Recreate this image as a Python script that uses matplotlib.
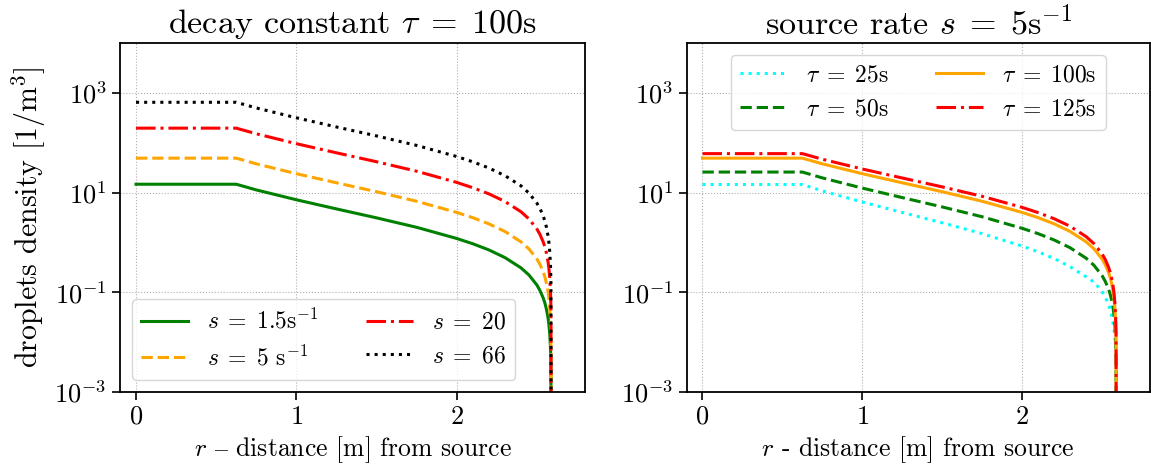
import matplotlib
matplotlib.use("Agg")
import matplotlib.pyplot as plt

plt.rcParams['font.family'] = ['cmr10', 'DejaVu Serif']
plt.rcParams['mathtext.fontset'] = 'cm'
plt.rcParams['axes.formatter.use_mathtext'] = True
plt.rcParams['axes.unicode_minus'] = True

# distance grid [m]
r = [0.0, 0.625, 0.75, 1.0, 1.25, 1.5, 1.75, 2.0, 2.1, 2.2, 2.3, 2.4, 2.45, 2.5,
     2.52, 2.54, 2.55, 2.56, 2.57, 2.575, 2.58, 2.585, 2.5875, 2.59]

# left panel: tau = 100 s, varying source rate s
left_s15 = [14.7, 14.7, 11.3, 7.17, 4.70, 3.11, 2.01, 1.20, 0.941, 0.709, 0.498, 0.310,
            0.223, 0.140, 0.107, 0.076, 0.0606, 0.045, 0.030, 0.0223, 0.0148, 0.0075,
            0.0037, 1e-7]
left_s5 = [49, 49, 37.7, 23.9, 15.7, 10.4, 6.69, 4.00, 3.14, 2.36, 1.66, 1.03,
           0.742, 0.465, 0.358, 0.253, 0.202, 0.150, 0.100, 0.0745, 0.0495, 0.025,
           0.0124, 1e-7]
left_s20 = [196, 196, 151, 95.6, 62.7, 41.5, 26.8, 16.0, 12.5, 9.45, 6.64, 4.14,
            2.97, 1.86, 1.43, 1.01, 0.808, 0.602, 0.400, 0.298, 0.198, 0.100,
            0.0496, 1e-7]
left_s66 = [647, 647, 498, 316, 207, 137, 88.3, 52.9, 41.4, 31.2, 21.9, 13.7,
            9.80, 6.14, 4.73, 3.35, 2.67, 1.99, 1.32, 0.983, 0.653, 0.330,
            0.164, 1e-7]

# right panel: s = 5 /s, varying decay constant tau
right_t25 = [14.5, 14.5, 10.8, 6.47, 3.99, 2.48, 1.50, 0.845, 0.647, 0.476, 0.326, 0.205,
             0.16, 0.105, 0.08, 0.058, 0.046, 0.034, 0.023, 0.018, 0.0125, 0.007,
             0.0035, 1e-7]
right_t50 = [25.8, 25.8, 19.7, 12.3, 7.93, 5.15, 3.27, 1.92, 1.50, 1.12, 0.783, 0.483,
             0.346, 0.216, 0.166, 0.117, 0.0934, 0.0697, 0.0462, 0.0345, 0.0230, 0.0114,
             0.0057, 1e-7]
right_t100 = [49, 49, 37.7, 23.9, 15.7, 10.4, 6.69, 4.00, 3.14, 2.36, 1.66, 1.03,
              0.742, 0.465, 0.358, 0.253, 0.202, 0.150, 0.100, 0.0745, 0.0495, 0.025,
              0.0124, 1e-7]
right_t125 = [60.4, 60.4, 46.6, 29.7, 19.6, 13.0, 8.40, 5.05, 3.96, 2.99, 2.11, 1.31,
              0.943, 0.591, 0.456, 0.322, 0.257, 0.192, 0.127, 0.0952, 0.0633, 0.0315,
              0.0158, 1e-7]

left_labels = [r"$s\;=\;1.5$s$^{-1}$", r"$s\;=\;5$ s$^{-1}$", r"$s\;=\;20$", r"$s\;=\;66$"]
right_labels = [r"$\tau\;=\;25$s", r"$\tau\;=\;50$s", r"$\tau\;=\;100$s", r"$\tau\;=\;125$s"]
yticks = [1e-3, 1e-1, 1e1, 1e3]
xticks = [0, 1, 2]

W, H = 1151, 472
fig = plt.figure(figsize=(W / 100, H / 100), dpi=100)
ax1 = fig.add_axes([120 / W, 1 - 392 / H, 465 / W, 349 / H])
ax2 = fig.add_axes([686.5 / W, 1 - 392 / H, 463.5 / W, 349 / H])

lw = 2.2
ax1.plot(r, left_s15, color='green', ls='-', lw=lw, label=left_labels[0])
ax1.plot(r, left_s5, color='orange', ls='--', lw=lw, label=left_labels[1])
ax1.plot(r, left_s20, color='red', ls='-.', lw=lw, label=left_labels[2])
ax1.plot(r, left_s66, color='black', ls=':', lw=lw, label=left_labels[3])

ax2.plot(r, right_t25, color='cyan', ls=':', lw=lw, label=right_labels[0])
ax2.plot(r, right_t50, color='green', ls='--', lw=lw, label=right_labels[1])
ax2.plot(r, right_t100, color='orange', ls='-', lw=lw, label=right_labels[2])
ax2.plot(r, right_t125, color='red', ls='-.', lw=lw, label=right_labels[3])

for ax in (ax1, ax2):
    ax.set_yscale('log')
    ax.set_ylim(1e-3, 1e4)
    ax.set_xlim(-0.1, 2.8)
    ax.set_yticks(yticks)
    ax.set_xticks(xticks)
    ax.yaxis.set_minor_locator(matplotlib.ticker.NullLocator())
    ax.grid(True, ls=':', color='#b0b0b0', lw=0.8)
    ax.tick_params(labelsize=19, length=6, width=1.2)
    for sp in ax.spines.values():
        sp.set_linewidth(1.3)

ax1.set_title(r"decay constant $\tau\;=\;100$s", fontsize=24.5, pad=7)
ax2.set_title(r"source rate $s\;=\;5$s$^{-1}$", fontsize=24.5, pad=7)
ax1.set_xlabel(r"$r$ $\text{–}$ distance [m] from source", fontsize=18.5)
ax2.set_xlabel(r"$r$ - distance [m] from source", fontsize=18.5)
ax1.set_ylabel(r"droplets density [1/m$^3$]", fontsize=21.5, labelpad=5)

leg_kw = dict(ncol=2, fontsize=17, fancybox=True, framealpha=0.8, edgecolor='#cccccc')
ax1.legend(loc='lower left', **leg_kw)
ax2.legend(loc='upper center', **leg_kw)

fig.savefig('out.png', dpi=100)
